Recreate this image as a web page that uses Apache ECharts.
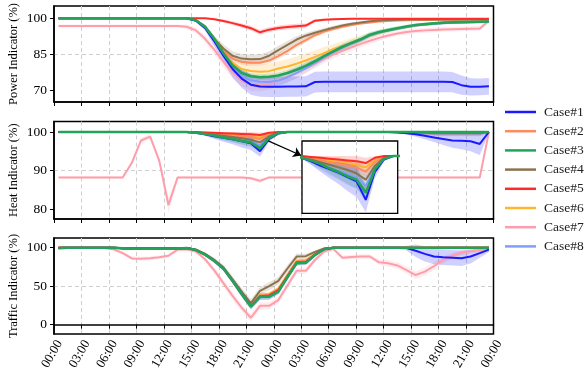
<!DOCTYPE html>
<html>
<head>
<meta charset="utf-8">
<script src="https://cdn.jsdelivr.net/npm/echarts@6/dist/echarts.min.js"></script>
<style>
  html, body { margin: 0; padding: 0; background: #fff; }
  #chart { width: 586px; height: 384px; }
</style>
</head>
<body>
<div id="chart"></div>
<script>
// hourly samples, centred on the half hour, over two days
const hours = [0.5, 1.5, 2.5, 3.5, 4.5, 5.5, 6.5, 7.5, 8.5, 9.5, 10.5, 11.5,
  12.5, 13.5, 14.5, 15.5, 16.5, 17.5, 18.5, 19.5, 20.5, 21.5, 22.5, 23.5,
  24.5, 25.5, 26.5, 27.5, 28.5, 29.5, 30.5, 31.5, 32.5, 33.5, 34.5, 35.5,
  36.5, 37.5, 38.5, 39.5, 40.5, 41.5, 42.5, 43.5, 44.5, 45.5, 46.5, 47.5];
const xTickLabels = ['00:00', '03:00', '06:00', '09:00', '12:00', '15:00', '18:00', '21:00',
  '00:00', '03:00', '06:00', '09:00', '12:00', '15:00', '18:00', '21:00', '00:00'];
const powerTicks = [70, 85, 100];
const heatTicks = [80, 90, 100];
const trafficTicks = [0, 50, 100];
const cases = ['Case#1', 'Case#2', 'Case#3', 'Case#4', 'Case#5', 'Case#6', 'Case#7', 'Case#8'];
const colors = ['#1a1aff', '#ff8a5c', '#22a35a', '#8c7350', '#ff2a2a', '#ffb52e', '#ff9eaa', '#7f9fff'];

// ---- Power indicator ----
const power1 = [100, 100, 100, 100, 100, 100, 100, 100, 100, 100, 100, 100,
  100, 100, 100, 99, 96, 90.5, 84.5, 79, 75, 72.5, 71.7, 71.6,
  71.6, 71.7, 71.7, 71.8, 73.6, 73.7, 73.7, 73.7, 73.7, 73.7, 73.7, 73.7,
  73.7, 73.7, 73.7, 73.7, 73.7, 73.7, 73.7, 73.6, 72.3, 71.6, 71.6, 71.8];
const power2 = [100, 100, 100, 100, 100, 100, 100, 100, 100, 100, 100, 100,
  100, 100, 100, 99.2, 96.5, 91.5, 86.5, 83.3, 82, 81.6, 81.6, 82.5,
  84.3, 86.5, 89, 91, 93, 94.5, 95.6, 96.5, 97.2, 97.8, 98.3, 98.7,
  98.9, 99.1, 99.2, 99.3, 99.3, 99.4, 99.4, 99.4, 99.5, 99.5, 99.5, 99.5];
const power3 = [100, 100, 100, 100, 100, 100, 100, 100, 100, 100, 100, 100,
  100, 100, 100, 99.2, 96.5, 91.5, 85.5, 80.5, 77.3, 76, 75.6, 75.8,
  76.3, 77.3, 78.7, 80.3, 82.2, 84.3, 86.3, 88.2, 89.8, 91.3, 93.2, 94.3,
  95.1, 95.9, 96.6, 97.2, 97.6, 97.9, 98.2, 98.3, 98.4, 98.5, 98.6, 98.7];
const power4 = [100, 100, 100, 100, 100, 100, 100, 100, 100, 100, 100, 100,
  100, 100, 100, 99.2, 96.5, 91.5, 87.5, 84.5, 83.3, 83, 83.1, 84.5,
  86.8, 89, 91.2, 92.8, 94, 95.1, 96.1, 97, 97.7, 98.3, 98.8, 99.1,
  99.3, 99.4, 99.5, 99.5, 99.5, 99.5, 99.5, 99.5, 99.5, 99.5, 99.5, 99.5];
const power5 = [100, 100, 100, 100, 100, 100, 100, 100, 100, 100, 100, 100,
  100, 100, 100, 100, 100, 99.6, 98.9, 98, 97, 95.9, 94.2, 95.3,
  96, 96.4, 96.7, 97, 99, 99.4, 99.6, 99.7, 99.8, 99.8, 99.8, 99.8,
  99.8, 99.8, 99.8, 99.8, 99.8, 99.8, 99.8, 99.8, 99.8, 99.8, 99.8, 99.8];
const power6 = [100, 100, 100, 100, 100, 100, 100, 100, 100, 100, 100, 100,
  100, 100, 100, 99.2, 96.5, 91.5, 86, 81.5, 79, 78.2, 77.9, 78.1,
  79.2, 80, 81.2, 82.5, 84, 85.6, 87.2, 88.6, 90, 91.4, 92.8, 94,
  95, 95.8, 96.4, 97, 97.4, 97.8, 98.1, 98.3, 98.4, 98.5, 98.6, 98.7];
const power7 = [96.8, 96.8, 96.8, 96.8, 96.8, 96.8, 96.8, 96.8, 96.8, 96.8, 96.8, 96.8,
  96.8, 96.8, 96.5, 95, 91.5, 87, 82, 77.5, 74.2, 72.6, 72.2, 72.9,
  74.2, 75.8, 77.3, 79.2, 81.2, 83.2, 85, 86.5, 88, 89.4, 90.7, 91.9,
  92.9, 93.7, 94.3, 94.7, 95, 95.2, 95.4, 95.5, 95.6, 95.7, 95.8, 99];
const power8 = [100, 100, 100, 100, 100, 100, 100, 100, 100, 100, 100, 100,
  100, 100, 100, 99.2, 96.5, 91, 85, 79.5, 76, 74.3, 73.7, 73.6,
  74.2, 75.6, 77.4, 79.4, 81.5, 83.8, 85.9, 87.8, 89.5, 91, 92.8, 94,
  94.9, 95.7, 96.4, 97, 97.4, 97.7, 98, 98.2, 98.3, 98.4, 98.5, 98.6];
// half widths of the shaded bands
const powerBand1 = [0, 0, 0, 0, 0, 0, 0, 0, 0, 0, 0, 0,
  0, 0, 0, 0.5, 1.2, 2, 2.8, 3.4, 3.8, 4.2, 4.2, 4.2,
  4.2, 4.2, 4.2, 4.2, 4.3, 4.3, 4.3, 4.3, 4.3, 4.3, 4.3, 4.3,
  4.3, 4.3, 4.3, 4.3, 4.3, 4.3, 4.3, 4.2, 4, 3.6, 3.5, 3.5];
const powerBand2 = [0, 0, 0, 0, 0, 0, 0, 0, 0, 0, 0, 0,
  0, 0, 0, 0.3, 0.6, 1, 1.2, 1.3, 1.3, 1.3, 1.3, 1.3,
  1.3, 1.3, 1.2, 1.1, 1, 0.9, 0.8, 0.7, 0.6, 0.5, 0.5, 0.4,
  0.4, 0.4, 0.4, 0.4, 0.4, 0.4, 0.4, 0.4, 0.4, 0.4, 0.4, 0.4];
const powerBand3 = [0, 0, 0, 0, 0, 0, 0, 0, 0, 0, 0, 0,
  0, 0, 0, 0.3, 0.6, 1, 1.2, 1.3, 1.3, 1.2, 1.2, 1.2,
  1.2, 1.3, 1.4, 1.5, 1.6, 1.6, 1.5, 1.4, 1.3, 1.2, 1.1, 1,
  0.9, 0.8, 0.7, 0.6, 0.5, 0.5, 0.5, 0.5, 0.5, 0.5, 0.5, 0.5];
const powerBand4 = [0, 0, 0, 0, 0, 0, 0, 0, 0, 0, 0, 0,
  0, 0, 0, 0.3, 0.7, 1.2, 1.6, 1.8, 1.9, 1.9, 1.9, 1.9,
  1.8, 1.6, 1.4, 1.2, 1, 0.9, 0.8, 0.7, 0.6, 0.5, 0.5, 0.4,
  0.4, 0.4, 0.4, 0.4, 0.4, 0.4, 0.4, 0.4, 0.4, 0.4, 0.4, 0.4];
const powerBand5 = [0, 0, 0, 0, 0, 0, 0, 0, 0, 0, 0, 0,
  0, 0, 0, 0, 0.2, 0.4, 0.6, 0.8, 0.9, 1, 1, 1,
  1, 1, 1, 0.9, 0.6, 0.5, 0.4, 0.3, 0.3, 0.3, 0.3, 0.3,
  0.3, 0.3, 0.3, 0.3, 0.3, 0.3, 0.3, 0.3, 0.3, 0.3, 0.3, 0.3];
const powerBand6 = [0, 0, 0, 0, 0, 0, 0, 0, 0, 0, 0, 0,
  0, 0, 0, 0.3, 0.8, 1.5, 2, 2.5, 2.8, 3, 3, 3,
  3, 3, 3, 3, 2.8, 2.5, 2.2, 2, 1.8, 1.5, 1.3, 1.1,
  1, 0.9, 0.8, 0.7, 0.6, 0.6, 0.5, 0.5, 0.5, 0.5, 0.5, 0.5];
const powerBand7 = [0.6, 0.6, 0.6, 0.6, 0.6, 0.6, 0.6, 0.6, 0.6, 0.6, 0.6, 0.6,
  0.6, 0.6, 0.9, 1.2, 1.6, 2, 2.3, 2.5, 2.6, 2.6, 2.5, 2.4,
  2.3, 2.2, 2.1, 2, 1.9, 1.8, 1.7, 1.6, 1.5, 1.4, 1.3, 1.2,
  1.1, 1, 1, 1, 1, 1, 1, 1, 1, 1, 1, 1];
const powerBand8 = [0, 0, 0, 0, 0, 0, 0, 0, 0, 0, 0, 0,
  0, 0, 0, 0.3, 0.8, 1.3, 1.8, 2.2, 2.4, 2.5, 2.5, 2.5,
  2.4, 2.3, 2.2, 2, 1.8, 1.6, 1.4, 1.2, 1, 0.9, 0.8, 0.7,
  0.6, 0.6, 0.6, 0.6, 0.6, 0.6, 0.6, 0.6, 0.6, 0.6, 0.6, 0.6];

// ---- Heat indicator ----
const heat1 = [100, 100, 100, 100, 100, 100, 100, 100, 100, 100, 100, 100,
  100, 100, 100, 99.8, 99.4, 98.9, 98.5, 98.1, 97.6, 97.1, 95, 98.2,
  99.6, 100, 100, 100, 100, 100, 100, 100, 100, 100, 100, 100,
  100, 99.9, 99.7, 99.4, 99, 98.6, 98.2, 97.8, 97.7, 97.6, 96.9, 100];
const heat2 = [100, 100, 100, 100, 100, 100, 100, 100, 100, 100, 100, 100,
  100, 100, 100, 99.9, 99.7, 99.5, 99.3, 99.1, 98.9, 98.7, 98.2, 99.3,
  99.9, 100, 100, 100, 100, 100, 100, 100, 100, 100, 100, 100,
  100, 100, 99.9, 99.9, 99.8, 99.8, 99.8, 99.8, 99.8, 99.8, 99.8, 100];
const heat3 = [100, 100, 100, 100, 100, 100, 100, 100, 100, 100, 100, 100,
  100, 100, 100, 99.8, 99.5, 99.1, 98.6, 98.2, 97.7, 97.3, 95.8, 98.5,
  99.7, 100, 100, 100, 100, 100, 100, 100, 100, 100, 100, 100,
  100, 100, 100, 100, 100, 100, 100, 100, 100, 100, 100, 100];
const heat4 = [100, 100, 100, 100, 100, 100, 100, 100, 100, 100, 100, 100,
  100, 100, 100, 99.8, 99.6, 99.3, 99, 98.7, 98.4, 98, 97.3, 98.9,
  99.8, 100, 100, 100, 100, 100, 100, 100, 100, 100, 100, 100,
  100, 100, 99.9, 99.8, 99.8, 99.7, 99.7, 99.7, 99.7, 99.7, 99.7, 100];
const heat5 = [100, 100, 100, 100, 100, 100, 100, 100, 100, 100, 100, 100,
  100, 100, 100, 100, 99.9, 99.8, 99.7, 99.6, 99.5, 99.4, 99.2, 99.8,
  100, 100, 100, 100, 100, 100, 100, 100, 100, 100, 100, 100,
  100, 100, 100, 100, 100, 100, 100, 100, 100, 100, 100, 100];
const heat6 = [100, 100, 100, 100, 100, 100, 100, 100, 100, 100, 100, 100,
  100, 100, 100, 99.9, 99.8, 99.7, 99.5, 99.4, 99.2, 99, 98.7, 99.5,
  99.9, 100, 100, 100, 100, 100, 100, 100, 100, 100, 100, 100,
  100, 100, 99.9, 99.9, 99.9, 99.8, 99.8, 99.8, 99.8, 99.8, 99.8, 100];
const heat7 = [88.2, 88.2, 88.2, 88.2, 88.2, 88.2, 88.2, 88.2, 92, 97.8, 98.8, 92.5,
  81, 88.2, 88.2, 88.2, 88.2, 88.2, 88.2, 88.2, 88.2, 88, 87.3, 88.2,
  88.2, 88.2, 88.2, 88.2, 88.2, 88.2, 88.2, 88.2, 88.2, 88.2, 88.2, 88.2,
  88.2, 88.2, 88.2, 88.2, 88.2, 88.2, 88.2, 88.2, 88.2, 88.2, 88.2, 100];
const heat8 = [100, 100, 100, 100, 100, 100, 100, 100, 100, 100, 100, 100,
  100, 100, 100, 99.8, 99.4, 99, 98.6, 98.3, 97.9, 97.5, 96.6, 98.7,
  99.8, 100, 100, 100, 100, 100, 100, 100, 100, 100, 100, 100,
  100, 100, 99.9, 99.8, 99.8, 99.7, 99.7, 99.7, 99.7, 99.7, 99.7, 100];
const heatBand1 = [0, 0, 0, 0, 0, 0, 0, 0, 0, 0, 0, 0,
  0, 0, 0, 0.1, 0.4, 0.7, 1, 1.3, 1.6, 1.8, 1.4, 0.7,
  0.2, 0, 0, 0, 0, 0, 0, 0, 0, 0, 0, 0,
  0, 0.1, 0.3, 0.6, 0.9, 1.2, 1.6, 1.9, 2.2, 2.6, 2.9, 0.3];
const heatBandSmall = [0, 0, 0, 0, 0, 0, 0, 0, 0, 0, 0, 0,
  0, 0, 0, 0.1, 0.2, 0.3, 0.4, 0.5, 0.5, 0.6, 0.6, 0.4,
  0.1, 0, 0, 0, 0, 0, 0, 0, 0, 0, 0, 0,
  0, 0, 0.2, 0.3, 0.4, 0.5, 0.5, 0.5, 0.5, 0.5, 0.5, 0.2];
const heatBand3 = [0, 0, 0, 0, 0, 0, 0, 0, 0, 0, 0, 0,
  0, 0, 0, 0.1, 0.3, 0.5, 0.6, 0.8, 0.9, 1, 1, 0.5,
  0.1, 0, 0, 0, 0, 0, 0, 0, 0, 0, 0, 0,
  0, 0, 0, 0, 0, 0, 0, 0, 0, 0, 0, 0];
const heatBand4 = [0, 0, 0, 0, 0, 0, 0, 0, 0, 0, 0, 0,
  0, 0, 0, 0.1, 0.3, 0.5, 0.7, 0.9, 1, 1.1, 1.2, 0.6,
  0.1, 0, 0, 0, 0, 0, 0, 0, 0, 0, 0, 0,
  0, 0, 0.3, 0.5, 0.6, 0.7, 0.8, 0.8, 0.8, 0.8, 0.8, 0.2];
const heatBand7 = [0.3, 0.3, 0.3, 0.3, 0.3, 0.3, 0.3, 0.3, 0.6, 0.8, 0.6, 0.8,
  2, 0.3, 0.3, 0.3, 0.3, 0.3, 0.3, 0.3, 0.3, 0.4, 0.6, 0.3,
  0.3, 0.3, 0.3, 0.3, 0.3, 0.3, 0.3, 0.3, 0.3, 0.3, 0.3, 0.3,
  0.3, 0.3, 0.3, 0.3, 0.3, 0.3, 0.3, 0.3, 0.3, 0.3, 0.3, 0.3];
const heatBand8 = [0, 0, 0, 0, 0, 0, 0, 0, 0, 0, 0, 0,
  0, 0, 0, 0.1, 0.4, 0.6, 0.8, 1, 1.2, 1.3, 1.3, 0.6,
  0.1, 0, 0, 0, 0, 0, 0, 0, 0, 0, 0, 0,
  0, 0, 0.2, 0.4, 0.5, 0.6, 0.7, 0.7, 0.7, 0.7, 0.7, 0.2];

// ---- Traffic indicator ----
const traffic1 = [99.5, 100, 100, 100, 100, 100, 99.8, 99.3, 98.8, 98.8, 98.8, 98.8,
  98.8, 98.8, 99.5, 97, 91, 83, 73, 57, 40, 24, 36, 36.5,
  43, 62, 80, 80.5, 90.5, 98, 100, 100, 100, 100, 100, 100,
  100, 100, 99.5, 96, 92, 88.5, 87.5, 87, 86.3, 88.5, 93, 97.5];
const traffic2 = [100, 100, 100, 100, 100, 100, 99.8, 99.3, 98.8, 98.8, 98.8, 98.8,
  98.8, 98.8, 99.5, 97, 91.5, 83.5, 73.5, 57.5, 41, 25, 38, 39,
  46, 64, 82, 83, 91.5, 98.5, 100, 100, 100, 100, 100, 100,
  100, 100, 100, 100, 100, 100, 100, 100, 100, 100, 100, 100];
const traffic3 = [99.5, 100, 100, 100, 100, 100, 99.8, 99.3, 98.8, 98.8, 98.8, 98.8,
  98.8, 98.8, 99.5, 97, 91, 83, 73, 57, 40, 23.5, 36.5, 36.5,
  43, 62, 80, 80.5, 90.5, 98, 100, 100, 100, 100, 100, 100,
  100, 100, 100, 100, 100, 100, 100, 100, 100, 100, 100, 100];
const traffic4 = [100, 100, 100, 100, 100, 100, 99.8, 99.3, 98.8, 98.8, 98.8, 98.8,
  98.8, 98.8, 99.5, 97.5, 92, 84, 74.5, 59, 43, 28, 44, 50,
  57, 73, 88.5, 89, 94.5, 99, 100, 100, 100, 100, 100, 100,
  100, 100, 100, 100, 100, 100, 100, 100, 100, 100, 100, 100];
const traffic5 = [100, 100, 100, 100, 100, 100, 99.8, 99.3, 98.8, 98.8, 98.8, 98.8,
  98.8, 98.8, 99.5, 97, 91, 83, 73, 57, 40, 24, 37, 38,
  45, 63, 81, 81.5, 91, 98.5, 100, 100, 100, 100, 100, 100,
  100, 100, 100, 100, 100, 100, 100, 100, 100, 100, 100, 100];
const traffic6 = [100, 100, 100, 100, 100, 100, 99.8, 99.3, 98.8, 98.8, 98.8, 98.8,
  98.8, 98.8, 99.5, 97.2, 91.5, 83.5, 73.5, 57.5, 41, 25, 38.5, 40,
  47, 65, 83, 84, 92, 98.5, 100, 100, 100, 100, 100, 100,
  100, 100, 100, 100, 100, 100, 100, 100, 100, 100, 100, 100];
const traffic7 = [100, 100, 100, 100, 100, 99.5, 98, 93, 86, 85.8, 86.2, 87.5,
  89.5, 97.5, 98, 95, 85, 70.5, 54, 37.5, 22, 9, 24.5, 24.5,
  32, 51, 70, 70, 84, 95, 98.5, 87, 88, 88.5, 88.6, 81,
  79.7, 77, 71, 64.5, 69, 76, 84, 89.5, 93.5, 95.5, 97, 97.7];
const traffic8 = [100, 100, 100, 100, 100, 100, 99.8, 99.3, 98.8, 98.8, 98.8, 98.8,
  98.8, 98.8, 99.5, 97, 91, 83, 73, 57, 40, 23.8, 36.5, 37,
  44, 62.5, 80.5, 81, 90.5, 98, 100, 100, 100, 100, 100, 100,
  100, 100, 100, 100, 100, 100, 100, 100, 100, 100, 100, 100];
const trafficBand1 = [1.5, 0.5, 0.5, 0.5, 0.5, 0.5, 0.5, 0.5, 0.5, 0.5, 0.5, 0.5,
  0.5, 0.5, 0.5, 1, 2, 3, 3, 3.5, 4, 4, 4, 4,
  3.5, 3.5, 3, 3, 2, 1.5, 1, 0.5, 0.5, 0.5, 0.5, 0.5,
  0.5, 1, 3, 8, 10, 10, 10, 10, 10, 9, 6, 3];
const trafficBandSmall = [1.5, 0.5, 0.5, 0.5, 0.5, 0.5, 0.5, 0.5, 0.5, 0.5, 0.5, 0.5,
  0.5, 0.5, 0.5, 1, 1.5, 2, 2, 2.5, 2.5, 2.5, 2.5, 2.5,
  2.5, 2.5, 2, 2, 1.5, 1, 0.5, 0.5, 0.5, 0.5, 0.5, 0.5,
  0.5, 0.5, 0.5, 0.5, 0.5, 0.5, 0.5, 0.5, 0.5, 0.5, 0.5, 0.5];
const trafficBand3 = [1.5, 0.5, 0.5, 0.5, 0.5, 0.5, 0.5, 0.5, 0.5, 0.5, 0.5, 0.5,
  0.5, 0.5, 0.5, 1, 2, 3, 3, 3.5, 4, 4, 4, 4,
  3.5, 3.5, 3, 3, 2, 1.5, 1, 0.5, 0.5, 0.5, 0.5, 0.5,
  0.5, 0.5, 0.5, 0.5, 0.5, 0.5, 0.5, 0.5, 0.5, 0.5, 0.5, 0.5];
const trafficBand4 = [2.5, 1, 0.5, 0.5, 0.5, 0.5, 0.5, 0.5, 0.5, 0.5, 0.5, 0.5,
  0.5, 0.5, 0.5, 1, 2, 3, 3.5, 4, 4.5, 5, 5, 5,
  5, 4.5, 4, 3, 2, 1, 0.5, 0.5, 0.5, 0.5, 0.5, 0.5,
  0.5, 0.5, 1.5, 1.5, 1.5, 1.5, 1.5, 1.5, 1.5, 1.5, 1.5, 1.5];
const trafficBand7 = [1, 1, 1, 1, 1, 1, 1.5, 2, 2.5, 2.5, 2.5, 2.5,
  2.5, 2, 2, 2, 3, 4, 4.5, 5, 5, 5, 5, 4.5,
  4.5, 4.5, 4, 4, 3.5, 3, 2.5, 2.5, 3, 3, 3, 3.5,
  4, 4, 4.5, 5, 5, 5, 4.5, 4, 3.5, 3, 2.5, 2];

const power = [power1, power2, power3, power4, power5, power6, power7, power8];
const powerBand = [powerBand1, powerBand2, powerBand3, powerBand4, powerBand5, powerBand6, powerBand7, powerBand8];
const heat = [heat1, heat2, heat3, heat4, heat5, heat6, heat7, heat8];
const heatBand = [heatBand1, heatBandSmall, heatBand3, heatBand4, heatBandSmall, heatBandSmall, heatBand7, heatBand8];
const traffic = [traffic1, traffic2, traffic3, traffic4, traffic5, traffic6, traffic7, traffic8];
const trafficBand = [trafficBand1, trafficBandSmall, trafficBand3, trafficBand4, trafficBandSmall, trafficBandSmall, trafficBand7, trafficBandSmall];

// pink first, green last so it sits on top like in the figure
const drawOrder = [6, 5, 7, 1, 3, 0, 4, 2];
const font = "'Liberation Serif', 'Times New Roman', serif";

const myChart = echarts.init(document.getElementById('chart'));

function hexToRgba(hex, a) {
  const n = parseInt(hex.slice(1), 16);
  return 'rgba(' + (n >> 16) + ',' + ((n >> 8) & 255) + ',' + (n & 255) + ',' + a + ')';
}

// shaded band (mean +- half width) as one polygon through the axis scales
function bandSeries(axis, vals, band, color, clip, z, from, to) {
  return {
    type: 'custom', xAxisIndex: axis, yAxisIndex: axis, silent: true, z: z, clip: true,
    data: [[hours[from], vals[from]]],
    renderItem: (params, api) => {
      const top = [], bottom = [];
      for (let i = from; i <= to; i++) {
        top.push(api.coord([hours[i], Math.min(clip, vals[i] + band[i])]));
        bottom.push(api.coord([hours[i], vals[i] - band[i]]));
      }
      const cs = params.coordSys;
      return {
        type: 'polygon',
        shape: {points: top.concat(bottom.reverse())},
        style: {fill: hexToRgba(color, 0.2)},
        clipPath: {type: 'rect', shape: {x: cs.x, y: cs.y, width: cs.width, height: cs.height}}
      };
    }
  };
}

function lineSeries(c, axis, vals, z) {
  return {
    name: cases[c], type: 'line', xAxisIndex: axis, yAxisIndex: axis,
    data: vals.map((v, i) => [hours[i], v]),
    symbol: 'none', silent: true, z: z,
    itemStyle: {color: colors[c]},
    lineStyle: {color: colors[c], width: c === 2 ? 2.6 : 2}
  };
}

const series = [];
const panelData = [[power, powerBand, 100], [heat, heatBand, 100], [traffic, trafficBand, 1000]];
panelData.forEach(([vals, bands, clip], p) => {
  drawOrder.forEach(c => series.push(bandSeries(p, vals[c], bands[c], colors[c], clip, 2, 0, 47)));
});
panelData.forEach(([vals], p) => {
  drawOrder.forEach(c => series.push(lineSeries(c, p, vals[c], 3)));
});
// zoomed inset of the heat dip
drawOrder.forEach(c => series.push(bandSeries(3, heat[c], heatBand[c], colors[c], 100, 12, 15, 25)));
drawOrder.forEach(c => series.push(lineSeries(c, 3, heat[c], 13)));

// arrow from the dip to the inset
const heatGreen = series.find(s => s.name === 'Case#3' && s.xAxisIndex === 1);
heatGreen.markLine = {
  silent: true,
  symbol: ['none', 'arrow'],
  symbolSize: 8,
  label: {show: false},
  lineStyle: {color: '#000', width: 1.2, type: 'solid'},
  data: [[{coord: [23.4, 97.7]}, {coord: [27.0, 93.9]}]]
};

const gridLine = {show: true, showMinLine: false, showMaxLine: false,
  lineStyle: {color: '#cfcfcf', width: 1, type: [4, 3]}};

function xAxis(grid, labels) {
  return {
    type: 'value', gridIndex: grid, min: 0, max: 48, interval: 3,
    axisLine: {show: true, lineStyle: {color: '#000', width: 1.5}},
    axisTick: {show: true, length: 4, lineStyle: {color: '#000', width: 1}},
    axisLabel: {
      show: labels, rotate: 60, margin: 4, verticalAlign: 'top',
      fontFamily: font, fontSize: 13, color: '#000',
      formatter: v => xTickLabels[Math.round(v / 3)]
    },
    splitLine: gridLine
  };
}

function yAxis(grid, name, min, max, ticks) {
  return {
    type: 'value', gridIndex: grid, min: min, max: max,
    name: name, nameLocation: 'middle', nameGap: 34, nameMoveOverlap: false,
    nameTextStyle: {fontFamily: font, fontSize: 12.5, color: '#000'},
    axisLine: {show: true, lineStyle: {color: '#000', width: 1.5}},
    axisTick: {show: true, length: 4, customValues: ticks, lineStyle: {color: '#000', width: 1}},
    axisLabel: {customValues: ticks, margin: 7, fontFamily: font, fontSize: 13.5, color: '#000'},
    splitLine: gridLine
  };
}

const frame = {show: true, borderColor: '#000', borderWidth: 1.5, backgroundColor: 'transparent', outerBoundsMode: 'none'};

const option = {
  animation: false,
  backgroundColor: '#fff',
  grid: [
    Object.assign({left: 54, top: 6, width: 439.5, height: 96}, frame),
    Object.assign({left: 54, top: 121.5, width: 439.5, height: 97.5}, frame),
    Object.assign({left: 54, top: 238, width: 439.5, height: 96}, frame),
    {left: 302, top: 141, width: 95.7, height: 72.3, show: true, backgroundColor: '#fff',
      borderColor: '#000', borderWidth: 1.3, z: 10, outerBoundsMode: 'none'}
  ],
  xAxis: [
    xAxis(0, false), xAxis(1, false), xAxis(2, true),
    {
      type: 'value', gridIndex: 3, min: 15.5, max: 26, z: 11,
      axisLine: {show: false}, axisLabel: {show: false},
      axisTick: {show: false, customValues: [18.5, 21.5, 24.5]},
      splitLine: gridLine
    }
  ],
  yAxis: [
    yAxis(0, 'Power Indicator (%)', 65.32, 105.1, powerTicks),
    yAxis(1, 'Heat Indicator (%)', 77.4, 102.73, heatTicks),
    yAxis(2, 'Traffic Indicator (%)', -12.1, 112.6, trafficTicks),
    {
      type: 'value', gridIndex: 3, min: 93.47, max: 101.71, z: 11,
      axisLine: {show: false}, axisLabel: {show: false},
      axisTick: {show: false, customValues: [94, 100]},
      splitLine: gridLine
    }
  ],
  legend: {
    orient: 'vertical', left: 500, top: 100,
    itemWidth: 31, itemHeight: 2.5, itemGap: 5.2,
    textStyle: {fontFamily: font, fontSize: 13.5, color: '#222', lineHeight: 14, padding: [0, 0, 0, 3]},
    data: cases.map((n, i) => ({name: n, icon: 'rect', itemStyle: {color: colors[i]}}))
  },
  series: series
};

myChart.setOption(option);
</script>
</body>
</html>
